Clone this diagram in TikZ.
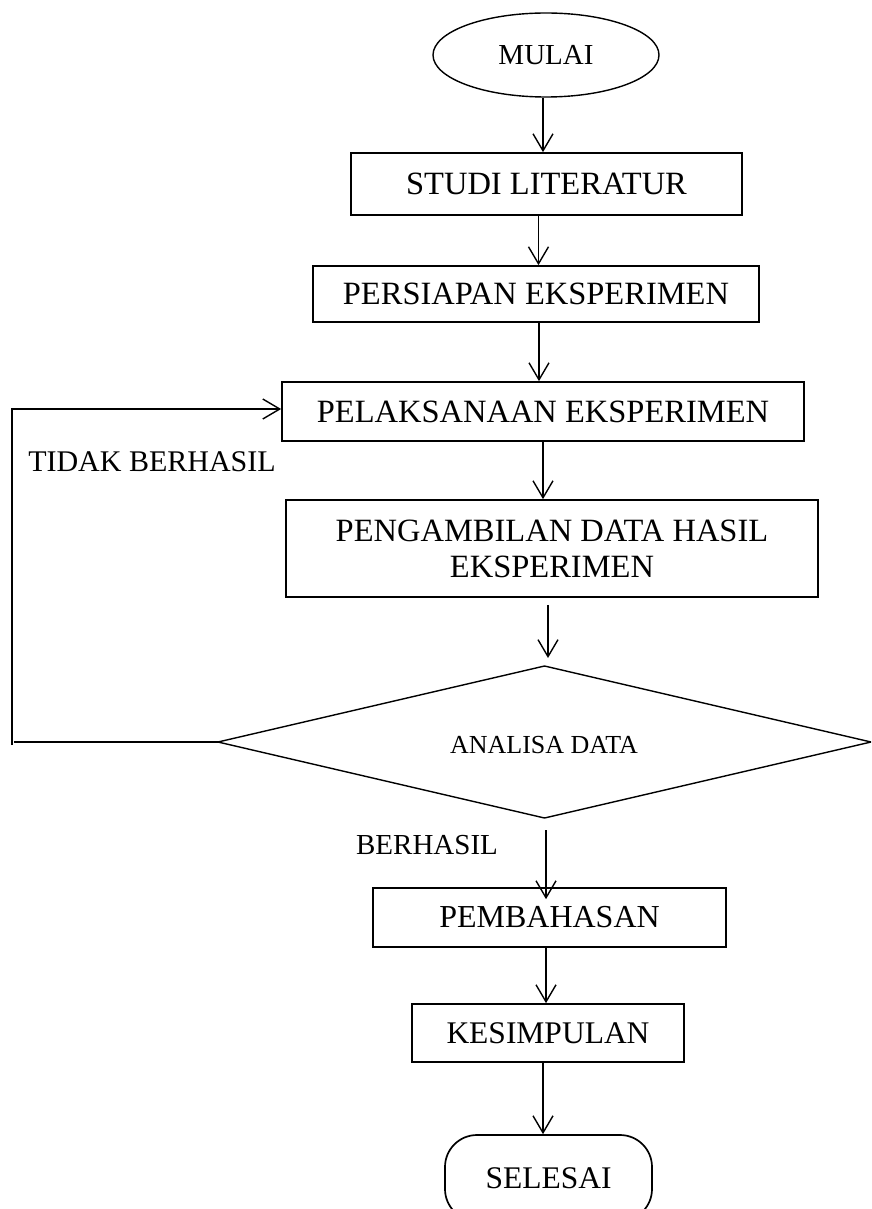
\documentclass[tikz,border=0pt]{standalone}
\usepackage{fontspec}
\setmainfont{Liberation Serif}
\usetikzlibrary{arrows.meta,shapes.geometric}
\begin{document}
\begin{tikzpicture}[x=1pt,y=-1pt,
  box/.style={draw,line width=1.7pt,inner sep=0pt,font=\fontsize{32.5}{36}\selectfont,align=center},
  arr/.style={line width=1.4pt,-{Straight Barb[length=17pt,width=20pt]}},
  plain/.style={line width=1.4pt},
  lab/.style={font=\fontsize{29}{34}\selectfont,inner sep=0pt}]
\useasboundingbox (0,0) rectangle (871,1209);
\clip (0,0) rectangle (871,1209);
\node[ellipse,draw,line width=1.4pt,minimum width=226,minimum height=84,inner sep=0pt,font=\fontsize{29}{34}\selectfont] (mulai) at (546,55) {MULAI};
\node[box,minimum width=391,minimum height=62] (studi) at (546.5,184) {STUDI LITERATUR};
\node[box,minimum width=446,minimum height=56] (pers) at (536,294) {PERSIAPAN EKSPERIMEN};
\node[box,minimum width=522,minimum height=59] (pel) at (543,411.5) {PELAKSANAAN EKSPERIMEN};
\node[box,minimum width=532,minimum height=97] (ambil) at (552,548.5) {PENGAMBILAN DATA HASIL\\EKSPERIMEN};
\coordinate (dw) at (218,742);
\coordinate (dn) at (544.5,666);
\coordinate (de) at (871,742);
\coordinate (ds) at (544.5,818);
\draw[plain] (dw) -- (dn) -- (de) -- (ds) -- cycle;
\node[inner sep=0pt,font=\fontsize{26}{30}\selectfont] (analisa) at (544,745) {ANALISA DATA};
\node[box,minimum width=353,minimum height=59,font=\fontsize{32}{36}\selectfont] (bahas) at (549.5,917.5) {PEMBAHASAN};
\node[box,minimum width=272,minimum height=58,font=\fontsize{31.5}{36}\selectfont] (simpul) at (548,1033) {KESIMPULAN};
\node[box,rounded corners=32pt,minimum width=207,minimum height=86,font=\fontsize{31.5}{36}\selectfont] (selesai) at (548.5,1178) {SELESAI};
\node[lab,font=\fontsize{30}{34}\selectfont] (tidak) at (152,462) {TIDAK BERHASIL};
\node[lab] (berhasil) at (427,845) {BERHASIL};
\draw[arr] ([xshift=-3pt]mulai.south) -- ([xshift=-3pt]mulai.south |- studi.north);
\draw[arr] ([xshift=-8pt]studi.south) -- ([xshift=-8pt]studi.south |- pers.north);
\draw[arr] ([xshift=3pt]pers.south) -- ([xshift=3pt]pers.south |- pel.north);
\draw[arr] (pel.south) -- (pel.south |- ambil.north);
\draw[arr] ([xshift=-4pt,yshift=-7pt]ambil.south) -- ([xshift=3.5pt,yshift=8pt]dn);
\draw[arr] ([xshift=1.5pt,yshift=-12pt]ds) -- ([xshift=1.5pt,yshift=-12pt]ds |- bahas.north);
\draw[arr] ([xshift=-3.5pt]bahas.south) -- ([xshift=-3.5pt]bahas.south |- simpul.north);
\draw[arr] ([xshift=-5pt]simpul.south) -- ([xshift=-5pt]simpul.south |- selesai.north);
\coordinate (fb1) at (14,742);
\coordinate (fb2) at (12,745);
\coordinate (fb3) at (12,409);
\draw[plain] (dw) -- (fb1);
\draw[arr] (fb2) -- (fb3) -- (fb3 -| pel.west);
\end{tikzpicture}
\end{document}
